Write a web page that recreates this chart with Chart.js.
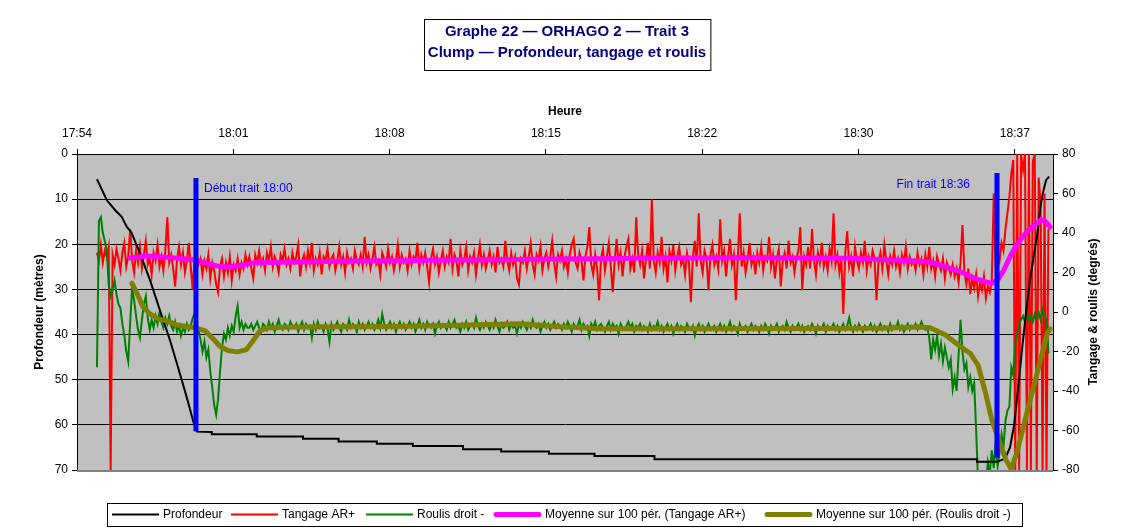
<!DOCTYPE html>
<html>
<head>
<meta charset="utf-8">
<script src="https://cdn.jsdelivr.net/npm/chart.js@4/dist/chart.umd.min.js"></script>
<style>
  html, body { margin: 0; padding: 0; background: #fff; }
  #wrap { width: 1122px; height: 530px; }
</style>
</head>
<body>
<div id="wrap"><canvas id="chart" width="1122" height="530"></canvas></div>
<script>
// Time axis: minutes elapsed since 17:54:00, ticks every 7.2 min
const tickMinutes = [0, 7.2, 14.4, 21.6, 28.8, 36, 43.2];
const tickLabels = ['17:54', '18:01', '18:08', '18:15', '18:22', '18:30', '18:37'];
const axisEndMinutes = 44.96;

// Titles
const titleLines = ['Graphe 22 \u2014 ORHAGO 2 \u2014 Trait 3', 'Clump \u2014 Profondeur, tangage et roulis'];

// Regularly sampled attitude log (start, period in minutes)
const sampleStart = 0.92;
const sampleStep = 0.09;

// Tangage AR+ (degrees)
const tangageAR = [
  30, 26, 34, 25, 31, 28, 33, -80,
  29, 24, 32, 27, 21, 30, 35, 23, 28, 42,
  26, 20, 31, 25, 33, 22, 29, 36, 24, 27,
  19, 30, 26, 34, 23, 28, 21, 31, 48, 25,
  29, 22, 13, 27, 33, 24, 30, 20, 26, 35,
  23, 11, 28,
  30, 24, 27, 19, 26, 22, 29, 17, 25, 21,
  14, 10, 23, 27, 18, 25, 20, 28, 16, 24,
  21, 27, 19, 25, 22, 29, 24,
  28, 22, 17, 29, 25, 31, 24, 27, 21, 30, 26, 33, 23, 28, 25, 20, 29, 26, 32, 24,
  27, 22, 30, 25, 28, 34, 18, 26, 29, 23, 31, 25, 35, 21, 27, 24, 30, 19, 28, 26,
  32, 23, 27, 29, 21, 26, 33, 24, 28, 20, 30, 25, 27, 22, 31, 26, 24, 29, 23, 38,
  25, 29, 22, 27, 33, 24, 26, 19, 30, 27, 23, 32, 25, 28, 21, 26, 34, 23, 29, 25,
  27, 21, 31, 24, 28, 26, 35, 22, 29, 25, 30, 23, 15, 27, 32, 24, 28, 20, 26, 31,
  23, 28, 25, 37, 22, 29, 26, 18, 31, 24, 27, 33, 21, 28, 25, 30, 19, 27, 34, 24,
  29, 22, 26, 31, 24, 28, 20, 33, 25, 27, 23, 36, 26, 21, 30, 24, 28, 17, 14, 27,
  25, 31, 22, 28, 35, 24, 19, 29, 26, 33, 21, 27, 30, 23, 28, 36, 25, 18, 29, 26,
  31, 23, 27, 20, 29, 34, 37, 25, 22, 30, 26, 16, 28, 33, 43, 24, 19, 29, 22, 6,
  27, 32, 21, 28, 35, 23, 10, 26, 37, 24, 30, 18, 28, 33, 37, 22, 27, 20, 48, 29,
  24, 31, 17, 27, 35, 22, 57, 26, 20, 30, 25, 38, 22, 28, 15, 31, 26, 34, 21, 28,
  33, 24, 27, 19, 30, 25, 5, 28, 36, 23, 50, 26, 20, 31, 27, 11, 29, 34, 24, 28,
  22, 47, 26, 31, 18, 28, 37, 24, 29, 6, 27, 50, 23, 30, 20, 26, 35, 24, 28, 19,
  30, 25, 33, 21, 28, 26, 38, 23, 29, 17, 27, 32, 13, 26, 30, 22, 36, 25, 28, 20,
  27, 31, 43, 11, 28, 24, 33, 22, 42, 26, 19, 30, 25, 35, 23, 28, 21, 32, 26, 50,
  24, 29, 20, 27, -1, 30, 41, 23, 28, 18, 33, 26, 22, 30, 25, 36, 21, 28, 24, 31,
  27, 6, 25, 30, 22, 34, 26, 19, 28, 24, 31, 23, 27, 20, 29, 25, 33, 22, 28, 24,
  26, 21, 30, 24, 27, 19, 29, 23, 33, 22, 26, 18, 28, 24, 21, 27, 17, 25, 22, 19,
  24, 18, 22, 15, 25, 44,
  20, 14, 22, 9, 17, 12, 19, 8, 15, 11, 18, 7, 13, 10, 16, 60,
  22, 30, 26, 35, 31, 42, 50, 58, 70, 77,
  -80, 80, -80, 80, 72, 80, -80, 80, -80, 76,
  80, -80, 68, 55, -80, 60, -80, 42
];

// Roulis droit - (degrees)
const roulisDroit = [
  -28, 46, 48, 40, 36, 31, 14, 8, 11, 16, 9, 4, 2, -6, -12, -20, -25, -5, 12, 6,
  -2, -9, -13, -4, 4, 8, -3, -9, -4, -8, -2, -6, 0, -5, -8, -3, -6, -2, -7, -9,
  -5, -10, -7, -12, -8, -10, -6, -9, -7, -3, -1, -12,
  -9, -14, -20, -15, -23, -19, -30, -38, -47, -52, -44, -30, -18, -11, -14, -8,
  -12, -7, -10, -2, 3, -8, -5, -9, -6, -8,
  -8, -6, -9, -7, -5, -8, -10, -6, -7, -9, -5, -8, -6, -10, -7, -4, -8, -9, -6, -7,
  -9, -5, -7, -8, -6, -10, -7, -5, -9, -6, -8, -7, -13, -6, -9, -5, -8, -7, -10, -6,
  -8, -15, -6, -9, -7, -5, -8, -10, -6, -7, -9, -4, -8, -6, -7, -10, -5, -8, -6, -9,
  -7, -5, -8, -6, -9, -7, -4, -8, -1, -6, -9, -7, -5, -8, -6, -10, -7, -5, -8, -6,
  -9, -7, -5, -8, -6, -10, -7, -4, -8, -6, -9, -5, -7, -8, -6, -11, -7, -5, -8, -6,
  -7, -9, -5, -8, -6, -4, -8, -7, -10, -6, -8, -5, -9, -7, -6, -8, -3, -7, -9, -6,
  -8, -5, -7, -9, -6, -8, -4, -7, -10, -6, -8, -7, -5, -9, -6, -8, -7, -11, -6, -8,
  -5, -7, -9, -6, -8, -4, -7, -8, -6, -10, -7, -5, -8, -6, -9, -7, -5, -8, -6, -7,
  -9, -6, -8, -5, -7, -10, -6, -8, -7, -4, -9, -6, -8, -7, -12, -6, -8, -5, -9, -7,
  -6, -8, -10, -7, -5, -9, -6, -8, -7, -11, -6, -8, -9, -7, -5, -8, -6, -10, -7, -8,
  -6, -9, -7, -8, -10, -6, -9, -7, -8, -5, -9, -7, -10, -8, -6, -9, -7, -11, -8, -6,
  -9, -7, -8, -10, -6, -8, -9, -7, -12, -8, -6, -9, -7, -10, -8, -6, -9, -8, -7, -10,
  -8, -6, -9, -7, -10, -8, -5, -9, -7, -8, -11, -6, -9, -8, -7, -10, -8, -6, -9, -7,
  -8, -10, -7, -9, -6, -8, -11, -7, -9, -8, -6, -10, -8, -7, -9, -5, -8, -10, -7, -9,
  -8, -6, -9, -7, -10, -8, -7, -9, -6, -8, -11, -7, -9, -8, -6, -10, -7, -9, -8, -6,
  -9, -7, -10, -8, -6, -9, -7, -3, -8, -10, -7, -9, -6, -8, -10, -7, -9, -8, -6, -9,
  -7, -10, -8, -6, -9, -7, -8, -10, -6, -9, -7, -8, -5, -9, -7, -10, -8, -6, -9, -7,
  -8, -6, -9, -7, -5, -8, -9,
  -8, -13, -24, -14, -19, -12, -22, -16, -25, -18, -23, -28, -24, -39, -33, -40,
  -22, -4, -20, -29, -26, -38, -33, -40, -36, -60, -86, -90, -88, -92, -87, -76,
  -82, -70, -79, -66, -78, -71, -62, -68, -55, -50, -48, -28, -32, -16, -11, -6,
  -4, -2, -5, -1, -4, -2, -5, -1, -3, 0, -4, 1, -2, -4, -21
];

// Profondeur (m) with its own time stamps (minutes)
const profTimes = [
  0.92, 1.37, 1.75, 2.06, 2.29, 2.52, 2.90, 3.36, 3.82, 4.28, 4.65, 5.05, 5.36, 5.53,
  6.21, 6.21, 8.28, 8.28, 10.41, 10.41, 12.05, 12.05, 13.81, 13.81, 15.47, 15.47,
  17.78, 17.78, 19.54, 19.54, 21.74, 21.74, 23.84, 23.84, 26.60, 26.60, 41.46, 41.46,
  42.06, 42.38, 42.75, 42.98, 43.17, 43.35, 43.54, 43.72, 43.90, 44.09, 44.23, 44.37,
  44.50, 44.64, 44.78
];
const profondeur = [
  5.6, 10.2, 12.4, 13.9, 16.1, 17.5, 22.0, 27.9, 34.6, 41.2, 47.2, 53.8, 59.3, 61.5,
  61.6, 62.1, 62.1, 62.6, 62.6, 63.1, 63.1, 63.7, 63.7, 64.2, 64.2, 64.7,
  64.7, 65.4, 65.4, 65.9, 65.9, 66.4, 66.4, 66.9, 66.9, 67.6, 67.6, 68.2,
  68.2, 68.2, 67.5, 65.0, 60.0, 52.0, 43.0, 35.0, 28.0, 22.0, 18.0, 12.0,
  8.5, 5.8, 5.0
];

// 100-period moving average of Tangage AR+
const moyTangageTimes = [
  2.44, 3.22, 4.28, 5.34, 5.99, 6.45, 6.91, 7.51, 8.20, 10.27, 12.58, 14.88, 17.18,
  19.49, 21.79, 24.09, 26.40, 28.70, 31.00, 33.31, 35.61, 37.00, 38.38, 39.30, 39.99,
  40.69, 41.37, 41.83, 42.15, 42.43, 42.71, 42.98, 43.26, 43.58, 43.90, 44.18, 44.41,
  44.60, 44.83
];
const moyTangage = [
  27.3, 28.3, 27.6, 26.5, 24.6, 23.3, 22.8, 23.5, 25.0, 25.3, 25.8, 26.0, 26.3,
  26.4, 26.8, 27.0, 27.3, 27.3, 27.5, 27.4, 27.2, 26.6, 26.0, 25.3, 23.0,
  20.4, 17.0, 15.3, 14.5, 16.5, 21.5, 28.0, 33.5, 38.5, 42.0, 44.5, 46.8,
  46.0, 43.0
];

// 100-period moving average of Roulis droit -
const moyRoulisTimes = [
  2.53, 2.76, 3.04, 3.36, 3.73, 4.15, 4.56, 5.02, 5.48, 5.90, 6.27, 6.59, 6.96, 7.37,
  7.79, 8.11, 8.43, 8.80, 10.27, 14.88, 19.49, 20.41, 22.25, 24.09, 28.70, 33.31,
  37.00, 38.84, 39.30, 39.99, 40.69, 41.15, 41.51, 41.83, 42.15, 42.52, 42.80, 43.03,
  43.30, 43.76, 44.23, 44.69, 44.83
];
const moyRoulis = [
  14.5, 9.5, 2.7, -1.0, -3.5, -4.5, -6.4, -7.3, -8.0, -9.5, -13.5, -17.5, -19.5, -20.2,
  -19.2, -14.5, -9.5, -8.0, -7.6, -7.3, -6.2, -6.0, -7.5, -8.5, -8.5, -8.3,
  -8.2, -7.6, -8.0, -11.5, -17.5, -21.0, -27.0, -40.0, -55.0, -66.5, -75.0, -79.5,
  -71.0, -51.0, -31.0, -11.0, -8.5
];

// Start / end of the tow (time in minutes, depth span in m)
const markLabels = ['D\u00e9but trait 18:00', 'Fin trait 18:36'];
const markTimes = [5.48, 42.38];
const markTop = [5.3, 4.2];
const markBottom = [61.4, 67.3];

const FONT = '"Liberation Sans", Arial, Helvetica, sans-serif';
Chart.defaults.font.family = FONT;
Chart.defaults.font.size = 12;
Chart.defaults.color = '#000';

const sampleTimes = tangageAR.map((_, i) => +(sampleStart + i * sampleStep).toFixed(3));
const toPoints = (times, values) => values.map((v, i) => ({ x: times[i], y: v }));

const datasets = [
  { label: markLabels[0], data: [{ x: markTimes[0], y: markTop[0] }, { x: markTimes[0], y: markBottom[0] }],
    yAxisID: 'y', borderColor: '#0000FF', borderWidth: 5, borderCapStyle: 'butt', order: 0, inLegend: false },
  { label: markLabels[1], data: [{ x: markTimes[1], y: markTop[1] }, { x: markTimes[1], y: markBottom[1] }],
    yAxisID: 'y', borderColor: '#0000FF', borderWidth: 5, borderCapStyle: 'butt', order: 0, inLegend: false },
  { label: 'Profondeur', data: toPoints(profTimes, profondeur), yAxisID: 'y',
    borderColor: '#000000', borderWidth: 2, order: 2, legendPos: 0 },
  { label: 'Tangage AR+', data: toPoints(sampleTimes, tangageAR), yAxisID: 'y2',
    borderColor: '#FF0000', borderWidth: 2, order: 4, clip: 0, legendPos: 1 },
  { label: 'Roulis droit -', data: toPoints(sampleTimes, roulisDroit), yAxisID: 'y2',
    borderColor: '#008000', borderWidth: 2, order: 3, clip: 0, legendPos: 2 },
  { label: 'Moyenne sur 100 p\u00e9r. (Tangage AR+)', data: toPoints(moyTangageTimes, moyTangage), yAxisID: 'y2',
    borderColor: '#FF00FF', borderWidth: 5, borderJoinStyle: 'round', borderCapStyle: 'round', order: 1, legendPos: 3 },
  { label: 'Moyenne sur 100 p\u00e9r. (Roulis droit -)', data: toPoints(moyRoulisTimes, moyRoulis), yAxisID: 'y2',
    borderColor: '#808000', borderWidth: 5, borderJoinStyle: 'round', borderCapStyle: 'round', order: 1, clip: 0, legendPos: 4 }
];

// Grey plot area and its lower frame
const plotBackground = {
  id: 'plotBackground',
  beforeDraw(chart) {
    const { ctx, chartArea: a } = chart;
    ctx.save();
    ctx.fillStyle = '#FFFFFF';
    ctx.fillRect(0, 0, chart.width, chart.height);
    ctx.fillStyle = '#C0C0C0';
    ctx.fillRect(a.left, a.top, a.right - a.left, a.bottom - a.top);
    ctx.restore();
  },
  afterDatasetsDraw(chart) {
    const { ctx, chartArea: a } = chart;
    ctx.save();
    ctx.strokeStyle = '#808080';
    ctx.lineWidth = 2;
    ctx.beginPath();
    ctx.moveTo(a.left, a.bottom + 1);
    ctx.lineTo(a.right, a.bottom + 1);
    ctx.stroke();
    ctx.restore();
  }
};

// Labels next to the start / end markers
const markText = {
  id: 'markText',
  afterDatasetsDraw(chart) {
    const { ctx, chartArea: a } = chart;
    const xs = chart.scales.x;
    const offsets = [{ dx: 8, dy: 38, align: 'left' }, { dx: -27, dy: 34, align: 'right' }];
    ctx.save();
    ctx.font = '12px ' + FONT;
    ctx.fillStyle = '#0000FF';
    ctx.textBaseline = 'alphabetic';
    markLabels.forEach((txt, i) => {
      const px = xs.getPixelForValue(markTimes[i]);
      ctx.textAlign = offsets[i].align;
      ctx.fillText(txt, px + offsets[i].dx, a.top + offsets[i].dy);
    });
    ctx.restore();
  }
};

// Boxed title, right axis title and boxed legend
const frameTexts = {
  id: 'frameTexts',
  afterDraw(chart) {
    const { ctx, chartArea: a } = chart;
    ctx.save();
    // title box
    ctx.font = 'bold 15px ' + FONT;
    const cx = (a.left + a.right) / 2 + 2;
    const w = Math.max(...titleLines.map(t => ctx.measureText(t).width)) + 8;
    const bx = Math.round(cx - w / 2) + 0.5;
    ctx.fillStyle = '#FFFFFF';
    ctx.fillRect(bx, 19.5, w, 51);
    ctx.strokeStyle = '#000000';
    ctx.lineWidth = 1;
    ctx.strokeRect(bx, 19.5, w, 51);
    ctx.fillStyle = '#000080';
    ctx.textAlign = 'center';
    ctx.textBaseline = 'middle';
    ctx.fillText(titleLines[0], cx, 32);
    ctx.fillText(titleLines[1], cx, 53);

    // right axis title
    ctx.save();
    ctx.translate(a.right + 40.5, (a.top + a.bottom) / 2);
    ctx.rotate(-Math.PI / 2);
    ctx.font = 'bold 12px ' + FONT;
    ctx.fillStyle = '#000';
    ctx.fillText('Tangage & roulis (degr\u00e9s)', 0, 0);
    ctx.restore();

    // legend
    const items = chart.data.datasets.filter(d => d.inLegend !== false)
      .sort((p, q) => p.legendPos - q.legendPos);
    const itemX = [112, 231, 366, 494, 765];
    ctx.font = '12px ' + FONT;
    ctx.textAlign = 'left';
    ctx.textBaseline = 'middle';
    const ly = 514.5;
    items.forEach((d, k) => {
      const x = itemX[k];
      const thick = d.borderWidth > 3;
      ctx.strokeStyle = d.borderColor;
      ctx.lineWidth = d.borderWidth;
      ctx.lineCap = thick ? 'round' : 'butt';
      ctx.beginPath();
      ctx.moveTo(x + (thick ? 2 : 0), ly);
      ctx.lineTo(x + 47 - (thick ? 2 : 0), ly);
      ctx.stroke();
      ctx.fillStyle = '#000';
      ctx.fillText(d.label, x + 51, ly + 0.5);
    });
    ctx.lineWidth = 1;
    ctx.lineCap = 'butt';
    ctx.strokeStyle = '#000';
    ctx.strokeRect(107.5, 503.5, 915, 23);
    ctx.restore();
  }
};

new Chart(document.getElementById('chart'), {
  type: 'line',
  data: { datasets },
  options: {
    responsive: false,
    animation: false,
    devicePixelRatio: 1,
    layout: { padding: { left: 0, right: 0, top: 0, bottom: 60 } },
    elements: { point: { radius: 0, hoverRadius: 0 }, line: { tension: 0, fill: false } },
    plugins: { legend: { display: false }, tooltip: { enabled: false }, title: { display: false } },
    events: [],
    scales: {
      x: {
        type: 'linear',
        position: 'top',
        min: 0,
        max: axisEndMinutes,
        afterFit: s => { s.height = 154; },
        afterBuildTicks: s => { s.ticks = tickMinutes.map(v => ({ value: v })); },
        ticks: {
          autoSkip: false, maxRotation: 0, padding: 8,
          callback: v => tickLabels[tickMinutes.indexOf(v)]
        },
        grid: { drawOnChartArea: false, drawTicks: true, tickLength: 5, color: '#000', tickColor: '#000' },
        border: { color: '#000', width: 1 },
        title: { display: true, text: 'Heure', font: { size: 12, weight: 'bold' }, padding: { top: 104.5, bottom: 0 } }
      },
      y: {
        type: 'linear',
        position: 'left',
        reverse: true,
        min: 0,
        max: 70,
        afterFit: s => { s.width = 77; },
        ticks: { stepSize: 10, padding: 4 },
        grid: {
          color: c => (c.tick && (c.tick.value === 0 || c.tick.value === 70)) ? 'rgba(0,0,0,0)' : '#000',
          tickColor: '#000', tickLength: 5, drawTicks: true
        },
        border: { color: '#000', width: 1 },
        title: { display: true, text: 'Profondeur (m\u00e8tres)', font: { size: 12, weight: 'bold' }, padding: { top: 32, bottom: 0 } }
      },
      y2: {
        type: 'linear',
        position: 'right',
        min: -80,
        max: 80,
        afterFit: s => { s.width = 69; },
        ticks: { stepSize: 20, padding: 4 },
        grid: { drawOnChartArea: false, drawTicks: true, tickLength: 5, color: '#000', tickColor: '#000' },
        border: { color: '#000', width: 1 }
      }
    }
  },
  plugins: [plotBackground, markText, frameTexts]
});
</script>
</body>
</html>
